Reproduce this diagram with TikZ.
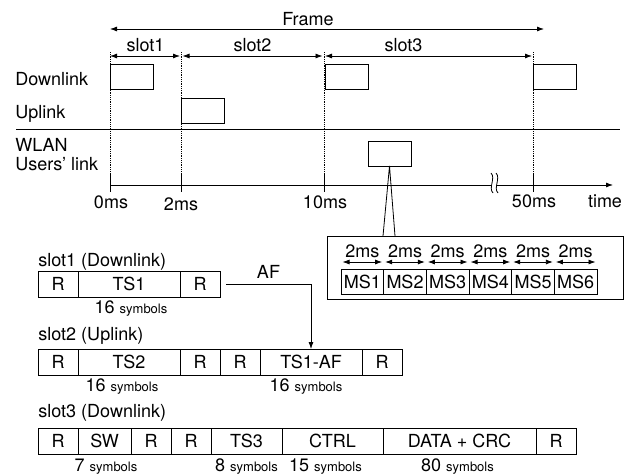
\documentclass[tikz,border=0pt]{standalone}
\usepackage{fontspec}
\setmainfont{TeX Gyre Heros}
\usetikzlibrary{arrows.meta, positioning, calc}
\tikzset{
  cell/.style   = {draw, line width=0.8pt, minimum height=26pt, inner sep=0pt,
                   outer sep=0pt},
  burst/.style  = {draw, line width=0.8pt, inner sep=0pt, outer sep=0pt,
                   minimum width=43pt, minimum height=25pt, anchor=north west},
  sig/.style    = {-{Latex[length=7pt,width=5pt]}, line width=0.8pt},
  dsig/.style   = {{Latex[length=7pt,width=5pt]}-{Latex[length=7pt,width=5pt]}, line width=0.8pt},
  lab/.style    = {inner sep=0pt, anchor=base},
  rowlab/.style = {inner sep=0pt, anchor=base west},
  grid/.style   = {densely dotted, line width=0.8pt},
}
\newcommand{\nsym}[1]{#1 {\fontsize{13}{14}\selectfont symbols}}

\begin{document}
\begin{tikzpicture}[x=1pt, y=-1pt, line width=0.8pt, font=\fontsize{18}{20}\selectfont]
  \useasboundingbox (0,0) rectangle (630,474);

  % time grid
  \coordinate (g0)  at (110,56);
  \coordinate (g2)  at (181,56);
  \coordinate (g10) at (324,56);
  \coordinate (g50) at (533,56);
  \foreach \x in {110,181,324,533} {
    \draw[grid] (\x,52) -- (\x,175);
    \draw (\x,175) -- (\x,192);
  }

  \draw[dsig] (110,29) -- node[lab, pos=0.456, above=3pt] (frame) {Frame} (544,29);
  \draw[dsig, shorten >=1pt] (g0) -- node[lab, midway, above=4pt] (sl1) {slot1} (g2);
  \draw[dsig, shorten <=1.5pt, shorten >=1.5pt] (g2) -- node[lab, midway, above=4pt] (sl2) {slot2} (g10);
  \draw[dsig, shorten <=1pt, shorten >=1pt] (g10) -- node[lab, pos=0.38, above=4pt] (sl3) {slot3} (g50);

  \node[rowlab] (ldl) at (15,85)  {Downlink};
  \node[rowlab] (lul) at (15,118) {Uplink};
  \node[rowlab] (lw1) at (15,151) {WLAN};
  \node[rowlab] (lw2) at (15,170) {Users’ link};

  \node[burst] (dl1) at (110,64) {};
  \node[burst] (ul1) at (181,98) {};
  \node[burst] (dl2) at (325,64) {};
  \node[burst] (dl3) at (533,64) {};
  \node[burst] (wlan) at (368,141) {};

  \draw (16,129) -- (620,129);

  % time axis
  \draw[sig] (110,185) -- (613,185);
  \fill[white] (491,173) .. controls (496,178) and (488,188) .. (493,193)
    -- (498,193) .. controls (493,188) and (501,178) .. (496,173) -- cycle;
  \draw (491,173) .. controls (496,178) and (488,188) .. (493,193);
  \draw (496,173) .. controls (501,178) and (493,188) .. (498,193);
  \node[lab] (t0)   at (111,208) {0ms};
  \node[lab] (t2)   at (181,210) {2ms};
  \node[lab] (t10)  at (325,208) {10ms};
  \node[lab] (t50)  at (534,207) {50ms};
  \node[lab] (ttim) at (605,207) {time};

  % WLAN zoom
  \node[draw, inner sep=0pt, minimum width=296pt, minimum height=63pt, anchor=north west]
    (zoom) at (327,236) {};
  \coordinate (cl) at (383,236);
  \coordinate (cr) at (395,236);
  \draw (cl) -- (wlan.south) -- (cr);
  \foreach \i in {1,...,6} {
    \node[cell, minimum width=42.67pt, minimum height=25pt, anchor=north west]
      (ms\i) at ({341+(\i-1)*42.67},269) {MS\i};
    \draw[dsig, shorten <=1.5pt, shorten >=1.5pt]
      ($(ms\i.north west)+(0,-7)$) -- ($(ms\i.north east)+(0,-7)$);
    \node[lab] (d\i) at ($(ms\i.north)+(0,-12)$) {2ms};
  }

  % slot1
  \node[rowlab] (h1) at (38,266) {slot1 (Downlink)};
  \node[cell, minimum width=40pt, anchor=north west] (a1) at (38,271) {R};
  \node[cell, minimum width=102pt, right=0pt of a1] (a2) {TS1};
  \node[cell, minimum width=40pt, right=0pt of a2] (a3) {R};
  \node[lab] (s1) at ($(a2.south)+(2,16)$) {\nsym{16}};

  % slot2
  \node[rowlab] (h2) at (38,340) {slot2 (Uplink)};
  \node[cell, minimum width=40pt, anchor=north west] (b1) at (38,349) {R};
  \node[cell, minimum width=102pt, right=0pt of b1] (b2) {TS2};
  \node[cell, minimum width=40pt, right=0pt of b2] (b3) {R};
  \node[cell, minimum width=40pt, right=0pt of b3] (b4) {R};
  \node[cell, minimum width=102pt, right=0pt of b4] (b5) {TS1-AF};
  \node[cell, minimum width=40pt, right=0pt of b5] (b6) {R};
  \node[lab] (s2) at ($(b2.south)+(-7,16)$) {\nsym{16}};
  \node[lab] (s3) at ($(b5.south)+(-5,16)$) {\nsym{16}};

  \draw[sig] ([xshift=6pt]a3.east) -| node[lab, pos=0.25, above=5pt] (af) {AF} (b5.north);

  % slot3
  \node[rowlab] (h3) at (38,417) {slot3 (Downlink)};
  \node[cell, minimum width=40pt, anchor=north west] (c1) at (38,428) {R};
  \node[cell, minimum width=53pt, right=0pt of c1] (c2) {SW};
  \node[cell, minimum width=40pt, right=0pt of c2] (c3) {R};
  \node[cell, minimum width=40pt, right=0pt of c3] (c4) {R};
  \node[cell, minimum width=71pt, right=0pt of c4] (c5) {TS3};
  \node[cell, minimum width=101pt, right=0pt of c5] (c6) {CTRL};
  \node[cell, minimum width=153pt, right=0pt of c6] (c7) {DATA + CRC};
  \node[cell, minimum width=40pt, right=0pt of c7] (c8) {R};
  \node[lab] (s4) at ($(c2.south)+(1.5,17)$) {\nsym{7}};
  \node[lab] (s5) at ($(c5.south)+(0,17)$) {\nsym{8}};
  \node[lab] (s6) at ($(c6.south)+(-7,17)$) {\nsym{15}};
  \node[lab] (s7) at ($(c7.south)+(-2,17)$) {\nsym{80}};
\end{tikzpicture}
\end{document}
